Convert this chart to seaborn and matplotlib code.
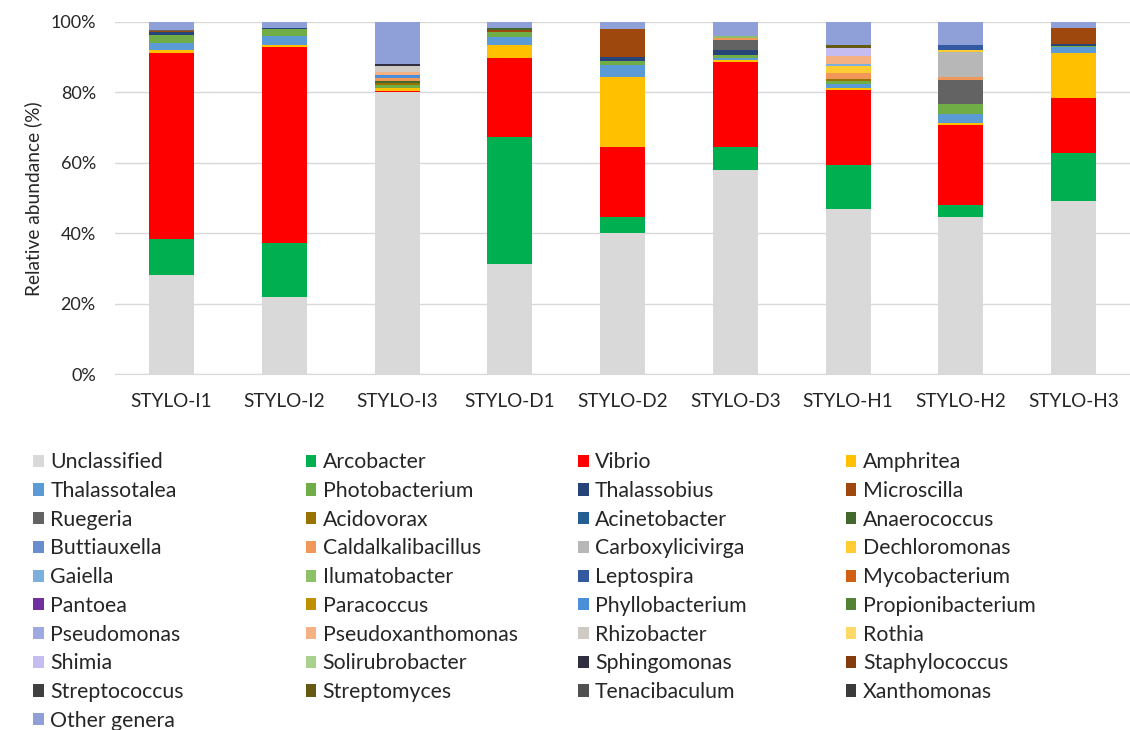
import pandas as pd
import matplotlib
matplotlib.use("Agg")
import matplotlib.pyplot as plt
import matplotlib.patches as mpatches
import seaborn as sns

samples = ["STYLO-I1", "STYLO-I2", "STYLO-I3", "STYLO-D1", "STYLO-D2",
           "STYLO-D3", "STYLO-H1", "STYLO-H2", "STYLO-H3"]

# genera in legend order (row by row), also stacking order bottom -> top
genera = ["Unclassified", "Arcobacter", "Vibrio", "Amphritea",
          "Thalassotalea", "Photobacterium", "Thalassobius", "Microscilla",
          "Ruegeria", "Acidovorax", "Acinetobacter", "Anaerococcus",
          "Buttiauxella", "Caldalkalibacillus", "Carboxylicivirga", "Dechloromonas",
          "Gaiella", "Ilumatobacter", "Leptospira", "Mycobacterium",
          "Pantoea", "Paracoccus", "Phyllobacterium", "Propionibacterium",
          "Pseudomonas", "Pseudoxanthomonas", "Rhizobacter", "Rothia",
          "Shimia", "Solirubrobacter", "Sphingomonas", "Staphylococcus",
          "Streptococcus", "Streptomyces", "Tenacibaculum", "Xanthomonas",
          "Other genera"]

colors = ["#D9D9D9", "#00B050", "#FF0000", "#FFC000",
          "#5B9BD5", "#70AD47", "#264478", "#9E480E",
          "#636363", "#997300", "#255E91", "#43682B",
          "#698ED0", "#F1975A", "#B7B7B7", "#FFCD33",
          "#7CAFDD", "#8CC168", "#335AA1", "#D26012",
          "#7030A0", "#BF9000", "#4A8FD8", "#548235",
          "#9DA9E0", "#F4B183", "#CFCBC4", "#FFD966",
          "#C5BDF2", "#A9D18E", "#2F2F3F", "#843C0C",
          "#404040", "#665A12", "#505050", "#3B3B3B",
          "#8FA0D8"]

# relative abundance (%) per sample, only non-zero genera listed
I1 = {"Unclassified": 28.1, "Arcobacter": 10.3, "Vibrio": 52.8, "Amphritea": 0.8,
      "Thalassotalea": 2.0, "Photobacterium": 2.3, "Thalassobius": 0.7,
      "Microscilla": 0.3, "Ruegeria": 0.4, "Other genera": 2.3}
I2 = {"Unclassified": 22.0, "Arcobacter": 15.2, "Vibrio": 55.6, "Amphritea": 0.6,
      "Thalassotalea": 2.5, "Photobacterium": 2.0, "Thalassobius": 0.3,
      "Other genera": 1.8}
I3 = {"Unclassified": 80.0, "Vibrio": 0.5, "Amphritea": 0.8, "Photobacterium": 0.8,
      "Acidovorax": 0.5, "Anaerococcus": 0.5, "Caldalkalibacillus": 1.0,
      "Phyllobacterium": 0.8, "Pseudoxanthomonas": 1.0, "Rhizobacter": 1.5,
      "Sphingomonas": 0.6, "Other genera": 12.0}
D1 = {"Unclassified": 31.2, "Arcobacter": 36.1, "Vibrio": 22.5, "Amphritea": 3.7,
      "Thalassotalea": 2.2, "Photobacterium": 1.4, "Microscilla": 0.6,
      "Anaerococcus": 0.5, "Other genera": 1.8}
D2 = {"Unclassified": 40.0, "Arcobacter": 4.6, "Vibrio": 19.9, "Amphritea": 19.9,
      "Thalassotalea": 3.5, "Photobacterium": 1.0, "Thalassobius": 1.1,
      "Microscilla": 8.0, "Other genera": 2.0}
D3 = {"Unclassified": 58.0, "Arcobacter": 6.5, "Vibrio": 24.1, "Amphritea": 0.5,
      "Thalassotalea": 0.8, "Photobacterium": 0.6, "Thalassobius": 1.5,
      "Ruegeria": 3.0, "Caldalkalibacillus": 0.5, "Ilumatobacter": 0.5,
      "Other genera": 4.0}
H1 = {"Unclassified": 46.9, "Arcobacter": 12.5, "Vibrio": 21.3, "Amphritea": 0.6,
      "Thalassotalea": 1.2, "Photobacterium": 0.6, "Acidovorax": 0.8,
      "Caldalkalibacillus": 1.7, "Dechloromonas": 2.0, "Gaiella": 0.6,
      "Pseudoxanthomonas": 2.0, "Shimia": 2.3, "Streptomyces": 1.0,
      "Other genera": 6.5}
H2 = {"Unclassified": 44.6, "Arcobacter": 3.4, "Vibrio": 22.7, "Amphritea": 0.5,
      "Thalassotalea": 2.8, "Photobacterium": 2.8, "Ruegeria": 6.8,
      "Caldalkalibacillus": 0.8, "Carboxylicivirga": 7.0, "Dechloromonas": 0.5,
      "Leptospira": 1.5, "Other genera": 6.6}
H3 = {"Unclassified": 49.1, "Arcobacter": 13.7, "Vibrio": 15.6, "Amphritea": 12.8,
      "Thalassotalea": 1.7, "Photobacterium": 0.3, "Thalassobius": 0.6,
      "Microscilla": 4.5, "Other genera": 1.7}

abundance = [I1, I2, I3, D1, D2, D3, H1, H2, H3]

rows = []
for s, d in zip(samples, abundance):
    for g in genera:
        rows.append({"sample": s, "genus": g, "value": d.get(g, 0.0)})
df = pd.DataFrame(rows)
df["sample"] = pd.Categorical(df["sample"], categories=samples, ordered=True)

sns.set_style("white")
plt.rcParams["font.family"] = ["Lato", "DejaVu Sans"]

fig = plt.figure(figsize=(11.3, 7.3), dpi=100)
ax = fig.add_axes([0.102, 0.487, 0.898, 0.483])

# seaborn stacks the last hue level at the bottom, so reverse the order
palette = dict(zip(genera, colors))
sns.histplot(data=df, x="sample", hue="genus", weights="value",
             hue_order=genera[::-1], palette=palette, multiple="stack",
             discrete=True, shrink=0.4, alpha=1, linewidth=0,
             legend=False, ax=ax)

ax.set_ylim(0, 100)
ax.set_xlim(-0.5, len(samples) - 0.5)
ax.set_yticks([0, 20, 40, 60, 80, 100])
ax.set_yticklabels(["0%", "20%", "40%", "60%", "80%", "100%"], fontsize=13, color="#262626")
ax.set_xticks(range(len(samples)))
ax.set_xticklabels(samples, fontsize=13.7, color="#262626")
ax.tick_params(axis="x", length=0, pad=13)
ax.tick_params(axis="y", length=0, pad=14)
ax.set_xlabel("")
ax.set_ylabel("Relative abundance (%)", fontsize=13.8, color="#262626", labelpad=6)
ax.yaxis.grid(True, color="#D9D9D9", linewidth=1)
ax.set_axisbelow(True)
for side in ["left", "right", "top"]:
    ax.spines[side].set_visible(False)
ax.spines["bottom"].set_color("#D9D9D9")

# legend: four columns, entries read row by row
col_x = [0.022, 0.263, 0.504, 0.741]
for c in range(4):
    idx = list(range(c, len(genera), 4))
    handles = [mpatches.Patch(facecolor=colors[i], edgecolor="none") for i in idx]
    labels = [genera[i] for i in idx]
    fig.legend(handles, labels, loc="upper left", bbox_to_anchor=(col_x[c], 0.392),
               frameon=False, fontsize=15.3, handlelength=0.5, handleheight=0.5,
               handletextpad=0.3, labelspacing=0.41, borderaxespad=0,
               labelcolor="#262626")

fig.savefig("out.png", dpi=100, facecolor="white")
